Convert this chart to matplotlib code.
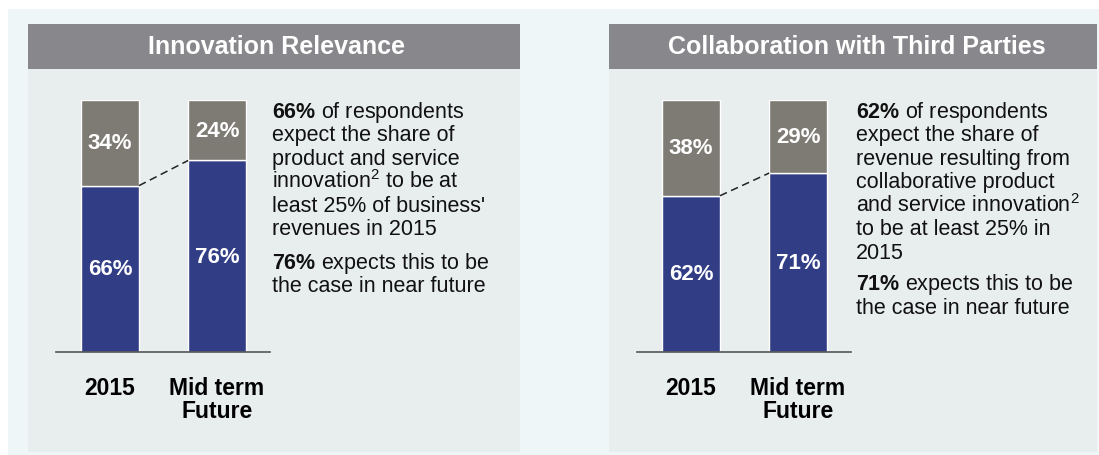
import matplotlib
matplotlib.use("Agg")
import matplotlib.pyplot as plt
from matplotlib.patches import Rectangle

plt.rcParams['font.family'] = ['Liberation Sans', 'DejaVu Sans']
plt.rcParams['mathtext.fontset'] = 'custom'
plt.rcParams['mathtext.rm'] = 'Liberation Sans'
plt.rcParams['mathtext.bf'] = 'Liberation Sans:bold'

# data
categories = ['2015', 'Mid term\nFuture']
titles = ['Innovation Relevance', 'Collaboration with Third Parties']
yes_share = [[66, 76], [62, 71]]
no_share = [[34, 24], [38, 29]]
notes_a = [
    ["$\\mathbf{66\\%}$ of respondents", "expect the share of", "product and service",
     "innovation$^2$ to be at", "least 25% of business'", "revenues in 2015"],
    ["$\\mathbf{62\\%}$ of respondents", "expect the share of", "revenue resulting from",
     "collaborative product", "and service innovation$^2$", "to be at least 25% in", "2015"],
]
notes_b = [
    ["$\\mathbf{76\\%}$ expects this to be", "the case in near future"],
    ["$\\mathbf{71\\%}$ expects this to be", "the case in near future"],
]

W, H = 1099, 456
BLUE = '#313d85'
GREY = '#7d7b73'
HEAD = '#88888c'
BODY = '#e8eded'
PAGE = '#eff6f8'

fig = plt.figure(figsize=(W / 100, H / 100), dpi=100)
fig.patch.set_facecolor('white')

def px(x, y, w, h):
    return [x / W, 1 - (y + h) / H, w / W, h / H]

def box(x, y, w, h, c):
    fig.patches.append(Rectangle((x / W, 1 - (y + h) / H), w / W, h / H,
                                 transform=fig.transFigure, facecolor=c,
                                 edgecolor='none', zorder=-5))

box(8, 10, W, H, PAGE)

panel_x = [28, 609]
panel_w = [492, 488]
for i in range(2):
    x0 = panel_x[i]
    box(x0, 70, panel_w[i], 383, BODY)
    box(x0, 25, panel_w[i], 45, HEAD)
    fig.text((x0 + 248) / W, 1 - 47 / H, titles[i], color='white', fontsize=18,
             fontweight='bold', ha='center', va='center')

    # bar axes
    ax = fig.add_axes(px(x0 + 28, 101, 214, 252))
    ax.set_zorder(2)
    ax.patch.set_alpha(0)
    xs = [0, 1]
    ax.bar(xs, yes_share[i], width=0.54, color=BLUE, edgecolor='white', linewidth=1)
    ax.bar(xs, no_share[i], bottom=yes_share[i], width=0.54, color=GREY,
           edgecolor='white', linewidth=1)
    ax.plot([0.27, 0.73], yes_share[i], color='#222222', lw=1.1, ls=(0, (5, 3)))
    for j in range(2):
        ax.text(xs[j], yes_share[i][j] / 2, f'{yes_share[i][j]}%', color='white',
                fontsize=16, fontweight='bold', ha='center', va='center')
        ax.text(xs[j], yes_share[i][j] + no_share[i][j] / 2, f'{no_share[i][j]}%',
                color='white', fontsize=16, fontweight='bold', ha='center', va='center')
    ax.set_xlim(-0.505, 1.495)
    ax.set_ylim(0, 100)
    for s in ['top', 'right', 'left']:
        ax.spines[s].set_visible(False)
    ax.spines['bottom'].set_color('#555555')
    ax.spines['bottom'].set_linewidth(1.2)
    ax.set_yticks([])
    ax.set_xticks(xs)
    ax.set_xticklabels(categories, fontsize=16.5, fontweight='bold', linespacing=1.0)
    ax.tick_params(axis='x', length=0, pad=17)

    # notes
    tx = [272, 856][i]
    for k, line in enumerate(notes_a[i]):
        fig.text(tx / W, 1 - (118 + 23.5 * k) / H, line, fontsize=15.5,
                 color='#111111', ha='left', va='baseline')
    by2 = [269, 290][i]
    for k, line in enumerate(notes_b[i]):
        fig.text(tx / W, 1 - (by2 + 23.5 * k) / H, line, fontsize=15.5,
                 color='#111111', ha='left', va='baseline')

fig.savefig('out.png', dpi=100, facecolor=fig.get_facecolor())
